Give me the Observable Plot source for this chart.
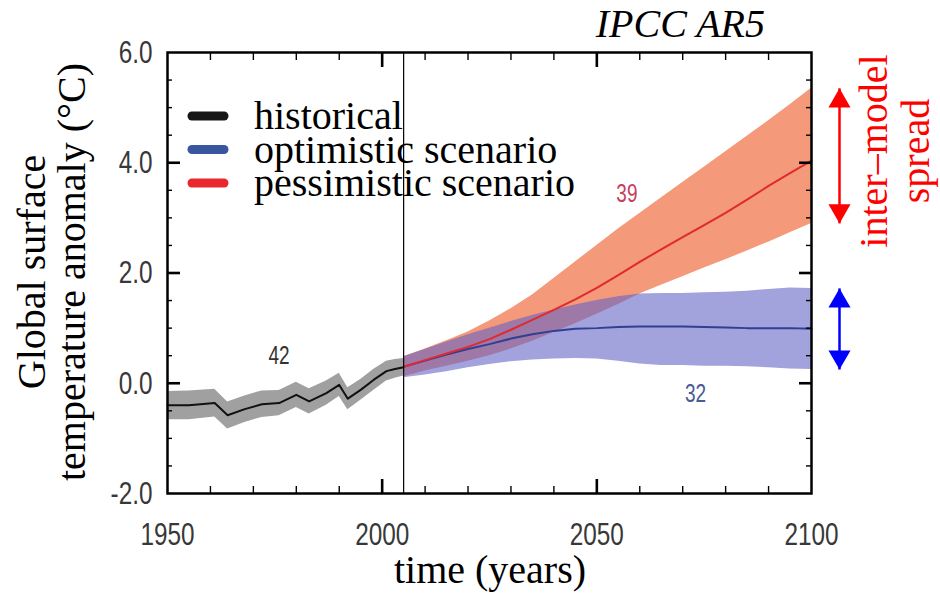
<!DOCTYPE html>
<html><head><meta charset="utf-8">
<script src="https://cdn.jsdelivr.net/npm/d3@7"></script>
<script src="https://cdn.jsdelivr.net/npm/@observablehq/plot@0.6"></script>
<style>body{margin:0;background:#fff;} #chart{width:940px;height:596px;}</style>
</head><body><div id="chart"></div>
<script>
// ---- data ----
const histYears = [1950, 1955, 1961, 1964, 1968, 1972, 1976, 1980, 1983, 1987, 1990, 1992, 1995, 1998, 2001, 2003, 2005];
const histMean  = [-0.40, -0.40, -0.36, -0.58, -0.47, -0.38, -0.36, -0.21, -0.33, -0.18, -0.03, -0.28, -0.12, 0.06, 0.22, 0.26, 0.29];
const histLow   = [-0.66, -0.66, -0.61, -0.83, -0.71, -0.62, -0.59, -0.44, -0.56, -0.40, -0.24, -0.48, -0.31, -0.13, 0.04, 0.09, 0.13];
const histHigh  = [-0.15, -0.14, -0.11, -0.34, -0.23, -0.14, -0.13, 0.02, -0.10, 0.04, 0.18, -0.08, 0.07, 0.25, 0.40, 0.43, 0.45];

const projYears = [2005, 2010, 2015, 2020, 2025, 2030, 2035, 2040, 2045, 2050, 2055, 2060, 2065, 2070, 2075, 2080, 2085, 2090, 2095, 2100];
const pessMean = [0.30, 0.42, 0.54, 0.66, 0.80, 0.97, 1.15, 1.33, 1.52, 1.73, 1.96, 2.20, 2.43, 2.65, 2.87, 3.09, 3.33, 3.58, 3.81, 4.04];
const pessLow  = [0.12, 0.22, 0.31, 0.40, 0.50, 0.62, 0.76, 0.92, 1.08, 1.25, 1.43, 1.62, 1.78, 1.93, 2.09, 2.24, 2.40, 2.56, 2.73, 2.90];
const pessHigh = [0.48, 0.62, 0.77, 0.93, 1.13, 1.35, 1.60, 1.90, 2.20, 2.50, 2.80, 3.08, 3.36, 3.64, 3.92, 4.20, 4.48, 4.76, 5.05, 5.35];
const optMean  = [0.30, 0.41, 0.52, 0.62, 0.71, 0.81, 0.89, 0.95, 0.99, 1.00, 1.02, 1.03, 1.03, 1.03, 1.02, 1.01, 1.00, 1.00, 1.00, 0.99];
const optLow   = [0.10, 0.15, 0.21, 0.28, 0.34, 0.39, 0.42, 0.44, 0.45, 0.44, 0.40, 0.35, 0.32, 0.32, 0.31, 0.31, 0.30, 0.28, 0.26, 0.25];
const optHigh  = [0.48, 0.61, 0.75, 0.88, 1.00, 1.12, 1.23, 1.33, 1.42, 1.50, 1.57, 1.62, 1.63, 1.63, 1.64, 1.65, 1.67, 1.70, 1.73, 1.72];

const countLabels = ["42", "39", "32"];
const countYears  = [1976, 2057, 2073];
const countValues = [0.49, 3.44, -0.20];

const xTickLabels = [1950, 2000, 2050, 2100];
const xMinorTicks = [1960, 1970, 1980, 1990, 2010, 2020, 2030, 2040, 2060, 2070, 2080, 2090];
const xMajorTicks = [2000, 2050];
const yTickLabels = [-2, 0, 2, 4, 6];
const yMinorTicks = [-1.5, -1, -0.5, 0.5, 1, 1.5, 2.5, 3, 3.5, 4.5, 5, 5.5];
const yMajorTicks = [0, 2, 4];

const legendLabels = ["historical", "optimistic scenario", "pessimistic scenario"];
const legendColors = ["#161616", "#3a55a0", "#e8282e"];

// ---- tables ----
const hist = histYears.map((year, i) => ({year, mean: histMean[i], lo: histLow[i], hi: histHigh[i]}));
const pess = projYears.map((year, i) => ({year, mean: pessMean[i], lo: pessLow[i], hi: pessHigh[i]}));
const opt  = projYears.map((year, i) => ({year, mean: optMean[i], lo: optLow[i], hi: optHigh[i]}));
const counts = countLabels.map((label, i) => ({label, year: countYears[i], value: countValues[i]}));
const countColors = ["#333333", "#c8405e", "#4a5a92"];
const spreads = [
  {year: projYears.at(-1), lo: pessLow.at(-1), hi: pessHigh.at(-1), color: "#ff0000"},
  {year: projYears.at(-1), lo: optLow.at(-1), hi: optHigh.at(-1), color: "#0000ff"}
];

const W = 940, H = 596, mL = 167, mR = 129, mT = 52, mB = 103;
const innerW = W - mL - mR, innerH = H - mT - mB;
const sans = '"Liberation Sans", Arial, sans-serif';
const serif = '"Liberation Serif", "Times New Roman", serif';

const spreadMarks = spreads.flatMap(s => [
  Plot.link([s], {x1: "year", x2: "year", y1: "lo", y2: "hi", stroke: s.color, strokeWidth: 2.5, dx: 28}),
  Plot.dot([s], {x: "year", y: "hi", symbol: "triangle", r: 8.2, fill: s.color, stroke: "none", dx: 28, dy: 12.7}),
  Plot.dot([s], {x: "year", y: "lo", symbol: "triangle", rotate: 180, r: 8.2, fill: s.color, stroke: "none", dx: 28, dy: -12.7})
]);

const svg = Plot.plot({
  width: W, height: H,
  marginLeft: mL, marginRight: mR, marginTop: mT, marginBottom: mB,
  style: {fontFamily: sans, fontSize: "32px", color: "#383838", background: "#fff", overflow: "visible"},
  x: {domain: [1950, 2100], ticks: xTickLabels, tickFormat: d => String(d), tickSize: 0, tickPadding: 29, label: null},
  y: {domain: [-2, 6], ticks: yTickLabels, tickFormat: d => d.toFixed(1), tickSize: 0, tickPadding: 15, label: null},
  marks: [
    Plot.areaY(hist, {x: "year", y1: "lo", y2: "hi", fill: "#a0a0a0"}),
    Plot.areaY(pess, {x: "year", y1: "lo", y2: "hi", fill: "#f4997a"}),
    Plot.areaY(opt, {x: "year", y1: "lo", y2: "hi", fill: "#6464c4", fillOpacity: 0.6}),
    Plot.line(hist, {x: "year", y: "mean", stroke: "#111", strokeWidth: 2}),
    Plot.line(opt, {x: "year", y: "mean", stroke: "#2f3f94", strokeWidth: 2}),
    Plot.line(pess, {x: "year", y: "mean", stroke: "#e02a30", strokeWidth: 2}),
    Plot.ruleX([projYears[0]], {stroke: "#000", strokeWidth: 1.2}),
    // inward ticks on all four sides
    Plot.tickX(xMinorTicks, {x: d => d, stroke: "#000", strokeWidth: 1.4, insetTop: innerH - 7}),
    Plot.tickX(xMinorTicks, {x: d => d, stroke: "#000", strokeWidth: 1.4, insetBottom: innerH - 8}),
    Plot.tickX(xMajorTicks, {x: d => d, stroke: "#000", strokeWidth: 2.6, insetTop: innerH - 14}),
    Plot.tickX(xMajorTicks, {x: d => d, stroke: "#000", strokeWidth: 2.6, insetBottom: innerH - 15}),
    Plot.tickY(yMinorTicks, {y: d => d, stroke: "#000", strokeWidth: 1.4, insetRight: innerW - 5}),
    Plot.tickY(yMinorTicks, {y: d => d, stroke: "#000", strokeWidth: 1.4, insetLeft: innerW - 5}),
    Plot.tickY(yMajorTicks, {y: d => d, stroke: "#000", strokeWidth: 2.6, insetRight: innerW - 13}),
    Plot.tickY(yMajorTicks, {y: d => d, stroke: "#000", strokeWidth: 2.6, insetLeft: innerW - 12}),
    Plot.frame({stroke: "#000", strokeWidth: 2.5}),
    ...counts.map((c, i) => Plot.text([c], {x: "year", y: "value", text: "label", fill: countColors[i], fontSize: 25, fontFamily: sans})),
    ...spreadMarks
  ]
});

// condensed look for the sans-serif texts (tick labels and model counts)
svg.querySelectorAll('g[aria-label*="axis"] text, g[aria-label="text"] text').forEach(el => {
  const t = el.getAttribute("transform") || "";
  el.setAttribute("transform", (t + " scale(0.76,1)").trim());
});

const s = d3.select(svg);
s.append("text").attr("x", 765).attr("y", 37).attr("text-anchor", "end")
  .attr("font-family", serif).attr("font-style", "italic").attr("font-size", 40).attr("fill", "#000").text("IPCC AR5");

const lg = s.append("g").attr("font-family", serif).attr("font-size", 40).attr("fill", "#000").attr("text-anchor", "start");
legendLabels.forEach((lab, i) => {
  const cy = 116 + i * 33.5;
  lg.append("line").attr("x1", 192).attr("x2", 224).attr("y1", cy).attr("y2", cy)
    .attr("stroke", legendColors[i]).attr("stroke-width", 9).attr("stroke-linecap", "round");
  lg.append("text").attr("x", 254).attr("y", cy + 13).attr("text-anchor", "start").text(lab);
});

const yl = ["Global surface", "temperature anomaly (\u00B0C)"];
yl.forEach((t, i) => {
  s.append("text").attr("transform", `translate(${45 + i * 40},272) rotate(-90)`).attr("text-anchor", "middle")
    .attr("font-family", serif).attr("font-size", 40).attr("fill", "#000").text(t);
});
s.append("text").attr("x", 490).attr("y", 583).attr("text-anchor", "middle")
  .attr("font-family", serif).attr("font-size", 40).attr("fill", "#000").text("time (years)");

["inter\u2013model", "spread"].forEach((t, i) => {
  s.append("text").attr("transform", `translate(${887 + i * 42},151) rotate(-90)`).attr("text-anchor", "middle")
    .attr("font-family", serif).attr("font-size", 40).attr("fill", "#ff0000").text(t);
});

document.getElementById("chart").appendChild(svg);
</script>
</body></html>
